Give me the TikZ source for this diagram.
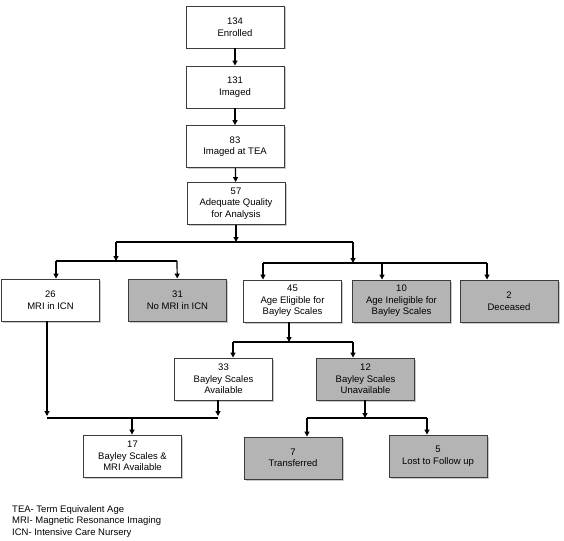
\documentclass[tikz,border=0pt]{standalone}
\usepackage{fontspec}
\setmainfont{Liberation Sans}
\usepackage{tikz}
\usetikzlibrary{arrows.meta,positioning,calc,shadows}
\definecolor{boxgrey}{RGB}{180,180,180}
\definecolor{edgegrey}{RGB}{60,60,60}

\begin{document}
\begin{tikzpicture}[x=1pt, y=-1pt,
    font=\fontsize{9.5}{11.5}\selectfont,
    box/.style={rectangle, draw=edgegrey, line width=0.9pt, fill=white, align=center,
        minimum width=98pt, minimum height=42pt, inner sep=1pt,
        drop shadow={shadow xshift=1.5pt, shadow yshift=-1.5pt, opacity=0.35, fill=black!60}},
    greybox/.style={box, fill=boxgrey},
    link/.style={line width=1.2pt, black},
    arr/.style={link, -{Triangle[length=5pt,width=5pt]}}]
    \useasboundingbox (0,0) rectangle (564,540);

    % main trunk
    \node[box] (enr) at (235,27)    {134\\Enrolled};
    \node[box] (img) at (235,87)    {131\\Imaged};
    \node[box] (tea) at (235,146.5) {83\\Imaged at TEA};
    \node[box] (adq) at (236,203.5) {57\\Adequate Quality\\for Analysis};
    \draw[arr] (enr) -- (img);
    \draw[arr] (img) -- (tea);
    \draw[arr] (tea) -- (adq);

    % first split
    \coordinate (sL) at (116,242);
    \coordinate (sR) at (353,242);
    \draw[arr] (adq) -- (adq |- sL);
    \draw[link] (sL) -- (sR);

    % ICN branch
    \node[box]     (mri)   at (50.5,300)  {26\\MRI in ICN};
    \node[greybox] (nomri) at (177.5,300) {31\\No MRI in ICN};
    \coordinate (iL) at (56,261);
    \coordinate (iR) at (177,261);
    \draw[arr] (sL) -- (sL |- iL);
    \draw[link] (iL) -- (iR);
    \draw[arr] (iL) -- (iL |- mri.north);
    \draw[arr] (iR) -- (nomri);

    % age branch
    \node[box]     (elig)   at (292.5,301) {45\\Age Eligible for\\Bayley Scales};
    \node[greybox] (inelig) at (401.5,301) {10\\Age Ineligible for\\Bayley Scales};
    \node[greybox] (dec)    at (509,301)   {2\\Deceased};
    \coordinate (aL) at (263,263);
    \coordinate (aM) at (382,263);
    \coordinate (aR) at (487,263);
    \draw[arr] (sR) -- (sR |- aL);
    \draw[link] (aL) -- (aR);
    \draw[arr] (aL) -- (aL |- elig.north);
    \draw[arr] (aM) -- (aM |- inelig.north);
    \draw[arr] (aR) -- (aR |- dec.north);

    % Bayley split
    \node[box]     (avail) at (223.5,379) {33\\Bayley Scales\\Available};
    \node[greybox] (unav)  at (365.5,379) {12\\Bayley Scales\\Unavailable};
    \coordinate (bL) at (233,342);
    \coordinate (bR) at (353,342);
    \coordinate (bT) at (289,342);
    \draw[arr] (bT |- elig.south) -- (bT);
    \draw[link] (bL) -- (bR);
    \draw[arr] (bL) -- (bL |- avail.north);
    \draw[arr] (bR) -- (bR |- unav.north);

    % merge
    \node[box] (both) at (132.5,456) {17\\Bayley Scales \&\\MRI Available};
    \coordinate (mL) at (47,418);
    \coordinate (mR) at (218,418);
    \coordinate (mT) at (132,418);
    \draw[arr] (mL |- mri.south) -- ($(mL)+(0,-2)$);
    \draw[arr] (mR |- avail.south) -- ($(mR)+(0,-2)$);
    \draw[link] (mL) -- (mR);
    \draw[arr] (mT) -- (mT |- both.north);

    % unavailable split
    \node[greybox] (trans) at (293,458) {7\\Transferred};
    \node[greybox] (lost)  at (438,456) {5\\Lost to Follow up};
    \coordinate (uL) at (307,418);
    \coordinate (uR) at (427,418);
    \coordinate (uT) at (365,418);
    \draw[arr] (uT |- unav.south) -- (uT);
    \draw[link] (uL) -- (uR);
    \draw[arr] (uL) -- (uL |- trans.north);
    \draw[arr] (uR) -- (uR |- lost.north);

    % abbreviations
    \node[anchor=west, align=left, inner sep=0pt] (legend) at (12,521.5)
        {TEA- Term Equivalent Age\\MRI- Magnetic Resonance Imaging\\ICN- Intensive Care Nursery};
\end{tikzpicture}
\end{document}
